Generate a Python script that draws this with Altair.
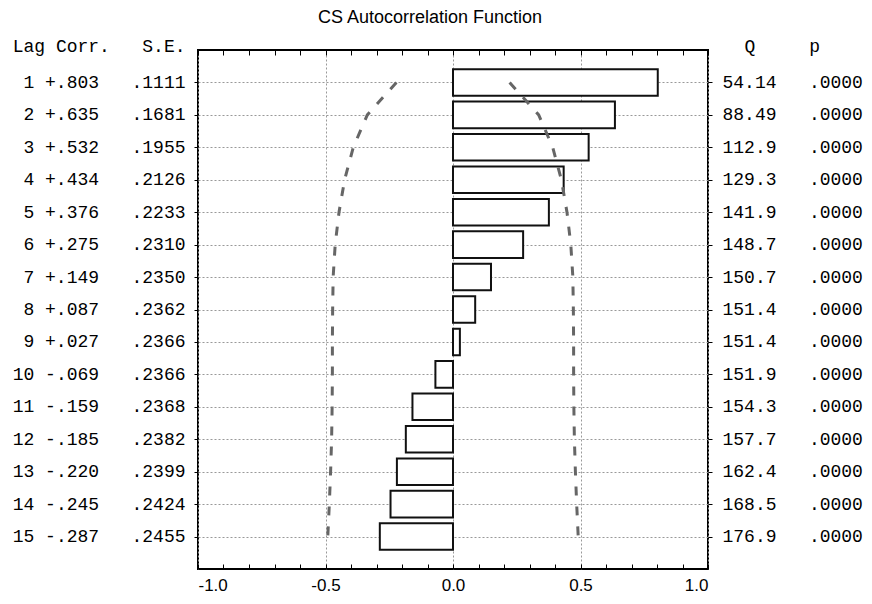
import json
import pandas as pd
import altair as alt

# Autocorrelation table
lags = list(range(1, 16))
corr = [0.803, 0.635, 0.532, 0.434, 0.376, 0.275, 0.149, 0.087, 0.027,
        -0.069, -0.159, -0.185, -0.220, -0.245, -0.287]
se = [0.1111, 0.1681, 0.1955, 0.2126, 0.2233, 0.2310, 0.2350, 0.2362,
      0.2366, 0.2366, 0.2368, 0.2382, 0.2399, 0.2424, 0.2455]
q_stat = ["54.14", "88.49", "112.9", "129.3", "141.9", "148.7", "150.7", "151.4",
          "151.4", "151.9", "154.3", "157.7", "162.4", "168.5", "176.9"]
p_val = [".0000"] * 15
# confidence band (dashed curves), half width per lag
band = [0.222, 0.336, 0.391, 0.425, 0.447, 0.462, 0.470, 0.472,
        0.473, 0.473, 0.474, 0.476, 0.480, 0.485, 0.491]

x_labels = [-1.0, -0.5, 0.0, 0.5, 1.0]
x_minor = [round(-1 + 0.1 * i, 1) for i in range(21)]

NB = "\u00a0"
MONO = "Liberation Mono"
SANS = "Liberation Sans"


def fmt_corr(v):
    return f"{v:+.3f}".replace("0.", ".", 1)


left_txt = [""] + [f"{l:>2} {fmt_corr(c)}   {f'{s:.4f}'[1:]}".replace(" ", NB)
                   for l, c, s in zip(lags, corr, se)]
right_txt = [""] + [f"{q}   {p}".replace(" ", NB) for q, p in zip(q_stat, p_val)]

df = pd.DataFrame({"lag": lags, "corr": corr, "se": se, "band": band})
df["neg_band"] = [-b for b in band]

xs = alt.Scale(domain=[-1, 1], nice=False, zero=False)
ys = alt.Scale(domain=[0, 16], reverse=True, nice=False, zero=False)

bars = alt.Chart(df).transform_calculate(
    y0="datum.lag - 0.41", y1="datum.lag + 0.41"
).mark_rect(fill="white", stroke="#111", strokeWidth=2).encode(
    x=alt.X("corr:Q", scale=xs, axis=alt.Axis(
        orient="bottom", values=x_labels, title=None, ticks=False, tickSize=0,
        domain=False, labelPadding=8, labelFont=SANS, labelFontSize=17,
        labelColor="black",
        labelExpr="datum.value < 0 ? '-' + format(-datum.value, '.1f') : format(datum.value, '.1f')",
        grid=True, gridColor="#999", gridDash=[2, 2], gridWidth=1)),
    x2=alt.datum(0),
    y=alt.Y("y0:Q", scale=ys, axis=alt.Axis(
        orient="left", values=lags, labelExpr=json.dumps(left_txt, ensure_ascii=False) + "[datum.value]",
        labelFont=MONO, labelFontSize=18, labelColor="black", tickSize=4, tickColor="black",
        labelPadding=9, domain=False, grid=True, gridColor="#999", gridDash=[2, 2], gridWidth=1,
        title=f"Lag Corr.{NB*3}S.E.", titleAngle=0, titleAlign="right", titleBaseline="middle",
        titleX=-13, titleY=-4, titleFont=MONO, titleFontSize=18, titleFontWeight="normal",
        titleColor="black")),
    y2="y1:Q",
)

curve_style = dict(stroke="#666", strokeWidth=3, strokeDash=[9, 11])

left_curve = alt.Chart(df).mark_line(**curve_style).encode(
    x=alt.X("neg_band:Q", scale=xs, axis=alt.Axis(
        orient="top", values=x_minor, labels=False, domain=False, grid=False,
        tickSize=5, offset=-5, tickColor="black", title=None)),
    y=alt.Y("lag:Q", scale=ys, axis=alt.Axis(
        orient="right", values=lags, labelExpr=json.dumps(right_txt, ensure_ascii=False) + "[datum.value]",
        labelFont=MONO, labelFontSize=18, labelColor="black", tickSize=4, tickColor="black",
        labelPadding=10, domain=False, grid=False,
        title=f"Q{NB*5}p", titleAngle=0, titleAlign="left", titleBaseline="middle",
        titleX=36, titleY=-4, titleFont=MONO, titleFontSize=18, titleFontWeight="normal",
        titleColor="black")),
    order="lag:Q",
)

right_curve = alt.Chart(df).mark_line(**curve_style).encode(
    x=alt.X("band:Q", scale=xs, axis=alt.Axis(
        orient="bottom", values=x_minor, labels=False, domain=False, grid=False,
        tickSize=5, offset=-5, tickColor="black", title=None)),
    y=alt.Y("lag:Q", scale=ys, axis=None),
    order="lag:Q",
)

chart = alt.layer(bars, left_curve, right_curve).resolve_axis(
    x="independent", y="independent"
).properties(
    width=510,
    height=519,
    autosize=alt.AutoSizeParams(type="none"),
    padding={"left": 190, "top": 42, "right": 156, "bottom": 27},
    title=alt.Title("CS Autocorrelation Function", font=SANS, fontSize=18,
                    fontWeight="normal", color="black", frame="group", dx=-23, offset=10),
).configure_view(stroke="black", strokeWidth=2)

chart.save("out.html", embed_options={"renderer": "svg", "actions": False})
